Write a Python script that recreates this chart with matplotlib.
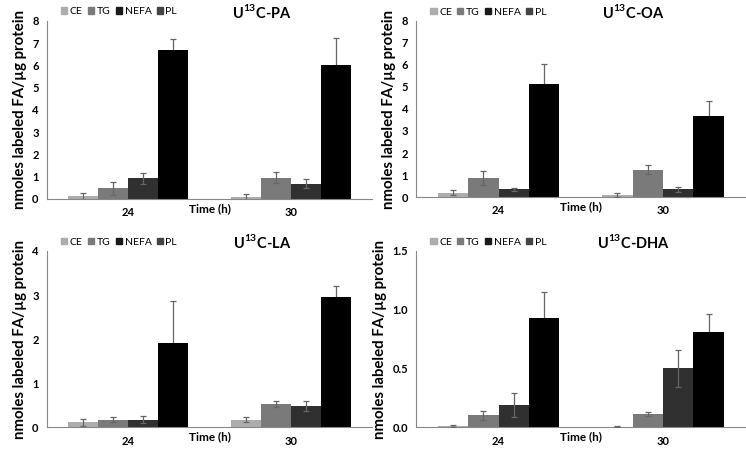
import numpy as np
import matplotlib.pyplot as plt

plt.rcParams['font.family'] = ['Lato', 'DejaVu Sans']
plt.rcParams['mathtext.fontset'] = 'custom'
plt.rcParams['mathtext.rm'] = 'Lato'
plt.rcParams['mathtext.bf'] = 'Lato:bold'

times = ["24", "30"]
fractions = ["CE", "TG", "NEFA", "PL"]
colors = ["#adadad", "#7a7a7a", "#303030", "#000000"]
legend_colors = ["#adadad", "#7a7a7a", "#1a1a1a", "#444444"]

# values [fraction][time]
pa_mean = [[0.12, 0.09], [0.47, 0.96], [0.92, 0.69], [6.70, 6.02]]
pa_err = [[0.15, 0.15], [0.30, 0.23], [0.25, 0.20], [0.50, 1.23]]
oa_mean = [[0.20, 0.08], [0.88, 1.25], [0.35, 0.35], [5.15, 3.70]]
oa_err = [[0.12, 0.10], [0.32, 0.20], [0.06, 0.10], [0.90, 0.65]]
la_mean = [[0.11, 0.17], [0.17, 0.52], [0.17, 0.48], [1.92, 2.95]]
la_err = [[0.08, 0.05], [0.05, 0.07], [0.08, 0.12], [0.95, 0.25]]
dha_mean = [[0.010, 0.005], [0.10, 0.11], [0.19, 0.50], [0.93, 0.81]]
dha_err = [[0.010, 0.005], [0.035, 0.015], [0.10, 0.16], [0.22, 0.15]]

panels = [
    ("PA", pa_mean, pa_err, 8, [0, 1, 2, 3, 4, 5, 6, 7, 8], None),
    ("OA", oa_mean, oa_err, 8, [0, 1, 2, 3, 4, 5, 6, 7, 8], None),
    ("LA", la_mean, la_err, 4, [0, 1, 2, 3, 4], None),
    ("DHA", dha_mean, dha_err, 1.5, [0, 0.5, 1.0, 1.5], ["0.0", "0.5", "1.0", "1.5"]),
]

# axes rectangles in figure fractions
rects = [
    [0.063, 0.561, 0.436, 0.393],
    [0.558, 0.565, 0.441, 0.389],
    [0.063, 0.057, 0.436, 0.389],
    [0.558, 0.057, 0.441, 0.389],
]

fig = plt.figure(figsize=(7.46, 4.53), dpi=100)

x = np.arange(len(times))
w = 0.185
for (name, mean, err, ymax, ticks, ticklabels), rect in zip(panels, rects):
    ax = fig.add_axes(rect)
    handles = []
    for i, frac in enumerate(fractions):
        pos = x + (i - 1.5) * w
        ax.bar(pos, mean[i], w, color=colors[i], label=frac, zorder=2)
        # PL error bar sits behind its black bar, so only the upper half shows
        z = 1 if i == len(fractions) - 1 else 3
        ax.errorbar(pos, mean[i], yerr=err[i], fmt="none", ecolor="#666666",
                    elinewidth=0.9, capsize=2.5, capthick=0.9, zorder=z)
        handles.append(plt.Rectangle((0, 0), 1, 1, color=legend_colors[i]))
    ax.set_xlim(-0.5, 1.5)
    ax.set_ylim(0, ymax)
    ax.set_yticks(ticks)
    if ticklabels:
        ax.set_yticklabels(ticklabels)
    ax.set_xticks(x)
    ax.set_xticklabels(times)
    ax.tick_params(length=0, labelsize=8, pad=6)
    for lab in ax.get_xticklabels() + ax.get_yticklabels():
        lab.set_fontweight("bold")
    ax.spines["top"].set_visible(False)
    ax.spines["right"].set_visible(False)
    ax.spines["left"].set_color("#888888")
    ax.spines["bottom"].set_color("#888888")
    ax.set_xlabel("Time (h)", fontsize=8.5, fontweight="bold", labelpad=-11)
    ax.set_ylabel("nmoles labeled FA/µg protein", fontsize=10.8, fontweight="bold", labelpad=4)
    ax.legend(handles, fractions, loc="center left", bbox_to_anchor=(0.03, 1.05),
              ncol=4, frameon=False, fontsize=7.5, handlelength=0.6, handleheight=0.6,
              handletextpad=0.25, columnspacing=0.5, borderaxespad=0)
    ax.text(0.66, 1.05, r"U$^{\mathbf{13}}$C-" + name, transform=ax.transAxes,
            ha="center", va="center", fontsize=10.5, fontweight="bold")

fig.savefig("out.png", dpi=100)
